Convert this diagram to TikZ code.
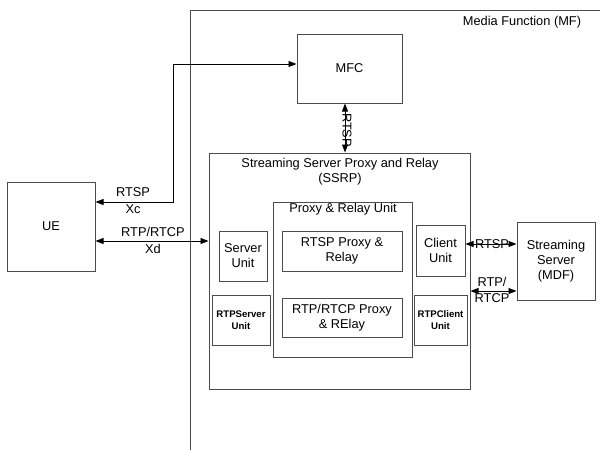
\documentclass[tikz,border=0pt]{standalone}
\usepackage{fontspec}
\setmainfont{Liberation Sans}
\usetikzlibrary{arrows.meta}
\begin{document}
\begin{tikzpicture}[x=1pt,y=-1pt,
  every node/.style={font=\fontsize{12.8}{15}\selectfont},
  box/.style={draw=black!70, line width=1pt, inner sep=0pt, align=center},
  smallbold/.style={font=\fontsize{9.6}{12}\selectfont\bfseries},
  conn/.style={line width=0.9pt, {Triangle[length=8pt,width=6pt]}-{Triangle[length=8pt,width=6pt]}},
  lbl/.style={inner sep=0pt, align=center}]
\useasboundingbox (0,0) rectangle (600,450);
% Media Function boundary
\coordinate (mfb) at (190,450);
\coordinate (mfc) at (190,10);
\coordinate (mfr) at (600,10);
\draw[black!70, line width=1pt] (mfb) -- (mfc) -- (mfr);
\node[lbl] (mflabel) at (522,22) {Media Function (MF)};
% boxes
\node[box, minimum width=105pt, minimum height=69pt] (MFC) at (349.5,68.5) {MFC};
\node[box, minimum width=88pt, minimum height=89pt] (UE) at (51,226.5) {UE};
\node[box, minimum width=261pt, minimum height=236pt] (SSRP) at (339.5,271) {};
\node[lbl] (ssrpt) at (340,172) {Streaming Server Proxy and Relay\\(SSRP)};
\node[box, minimum width=139pt, minimum height=155pt] (PRU) at (342.5,279.5) {};
\node[lbl] (prut) at (343,209) {Proxy \& Relay Unit};
\node[box, minimum width=120pt, minimum height=40pt] (RPR) at (342,251) {RTSP Proxy \&\\Relay};
\node[box, minimum width=120pt, minimum height=39pt] (RTPPR) at (342,317.5) {RTP/RTCP Proxy\\\& RElay};
\node[box, minimum width=48pt, minimum height=50pt] (SU) at (243,256) {Server\\Unit};
\node[box, smallbold, minimum width=58pt, minimum height=50pt] (RSU) at (241,320) {RTPServer\\Unit};
\node[box, minimum width=49pt, minimum height=51pt] (CU) at (440.5,250.5) {Client\\Unit};
\node[box, smallbold, minimum width=53pt, minimum height=50pt] (RCU) at (440.5,320) {RTPClient\\Unit};
\node[box, minimum width=78pt, minimum height=78pt] (SS) at (556,261) {Streaming\\Server\\(MDF)};
% UE - MFC
\coordinate (c1) at (173,64);
\coordinate (c2) at (173,202);
\draw[conn] (UE.east |- c2) -- (c2) -- (c1) -- (MFC.west |- c1);
\node[lbl] (rtspxc) at (133,192) {RTSP};
\node[lbl] (xc) at (133,209) {Xc};
% UE - SSRP
\coordinate (d1) at (150,241);
\draw[conn] (UE.east |- d1) -- (SSRP.west |- d1);
\node[lbl] (rtpxd) at (153,232) {RTP/RTCP};
\node[lbl] (xd) at (153,249) {Xd};
% MFC - SSRP
\coordinate (v1) at (345,120);
\draw[conn] (MFC.south -| v1) -- (SSRP.north -| v1);
\node[lbl, rotate=-90] (rtspv) at (347,130) {RTSP};
% Client - SS
\coordinate (r1) at (490,244);
\draw[conn] (CU.east |- r1) -- (SS.west |- r1);
\node[lbl] (rtspr) at (492,244) {RTSP};
% SSRP - SS
\coordinate (r2) at (490,291);
\draw[conn] (SSRP.east |- r2) -- (SS.west |- r2);
\node[lbl] (rtpr) at (492,282) {RTP/};
\node[lbl] (rtcpr) at (492,298) {RTCP};
\end{tikzpicture}
\end{document}
